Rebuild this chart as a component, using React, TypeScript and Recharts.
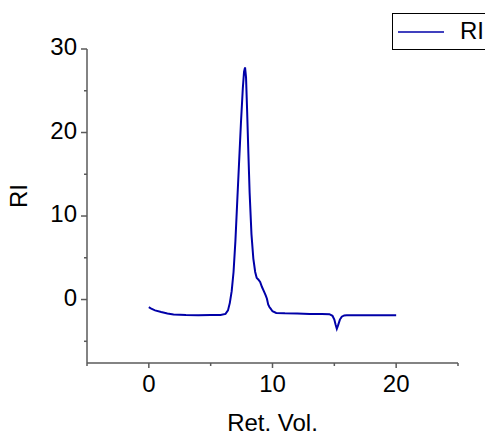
import { LineChart, Line, XAxis, YAxis, Legend } from "recharts";

// retention volume (x) and RI detector signal (y)
const retVol = [
  0, 0.2, 0.5, 1, 1.5, 2, 3, 4, 5, 5.8, 6.2, 6.4, 6.55, 6.7, 6.85, 7.0, 7.15, 7.3, 7.45, 7.6,
  7.7, 7.78, 7.86, 7.95, 8.05, 8.15, 8.3, 8.45, 8.6, 8.72, 8.85, 9.0, 9.15, 9.3, 9.45, 9.55,
  9.65, 9.75, 9.85, 10.0, 10.3, 11, 12, 13, 14, 14.6, 14.85, 15.0, 15.1, 15.2, 15.3, 15.45,
  15.6, 15.8, 16, 17, 18, 19, 20,
];
const riSignal = [
  -0.9, -1.1, -1.3, -1.5, -1.68, -1.78, -1.86, -1.88, -1.86, -1.84, -1.72, -1.3, -0.4, 1.0,
  3.3, 7.0, 11.8, 16.5, 21.2, 25.3, 27.3, 27.8, 26.6, 22.5, 17.5, 12.8, 7.8, 4.9, 3.3, 2.6,
  2.4, 2.1, 1.5, 1.0, 0.5, 0.1, -0.6, -0.9, -1.1, -1.4, -1.6, -1.64, -1.66, -1.72, -1.74,
  -1.76, -1.95, -2.4, -3.0, -3.5, -3.1, -2.4, -2.05, -1.9, -1.88, -1.88, -1.88, -1.88, -1.88,
];
const xTicks = [-5, 0, 5, 10, 15, 20, 25];
const yTicks = [-5, 0, 5, 10, 15, 20, 25, 30];

const data = retVol.map((v, i) => ({ vol: v, ri: riSignal[i] }));

const AXIS = "#5a5a5a";
const LINE = "#0000a8";
const FONT = "'Liberation Sans', Arial, sans-serif";

// eslint-disable-next-line @typescript-eslint/no-explicit-any
function XTick({ x, y, payload }: any) {
  const major = payload.value % 10 === 0;
  return (
    <g>
      <line x1={x} x2={x} y1={y} y2={y + (major ? 5 : 3)} stroke={AXIS} strokeWidth={1.5} />
      {major && (
        <text x={x} y={y + 23} textAnchor="middle" dominantBaseline="middle" fontSize={24} fontFamily={FONT} fill="#000">
          {payload.value}
        </text>
      )}
    </g>
  );
}

// eslint-disable-next-line @typescript-eslint/no-explicit-any
function YTick({ x, y, payload }: any) {
  const major = payload.value % 10 === 0;
  return (
    <g>
      <line x1={x} x2={x - (major ? 6 : 3)} y1={y} y2={y} stroke={AXIS} strokeWidth={1.5} />
      {major && (
        <text x={x - 10} y={y} textAnchor="end" dominantBaseline="middle" fontSize={24} fontFamily={FONT} fill="#000">
          {payload.value}
        </text>
      )}
    </g>
  );
}

// eslint-disable-next-line @typescript-eslint/no-explicit-any
function LegendBox({ payload }: any) {
  const item = payload?.[0];
  return (
    <div style={{ position: "relative", width: 110, height: 35, border: "1px solid #000", background: "#fff", fontFamily: FONT }}>
      <svg width={60} height={35} style={{ position: "absolute", left: 0, top: 0 }}>
        <line x1={5} x2={51} y1={18} y2={18} stroke={item?.color ?? LINE} strokeWidth={1.5} />
      </svg>
      <span style={{ position: "absolute", left: 67, top: 3, fontSize: 24, lineHeight: "28px", color: "#000" }}>
        {item?.value}
      </span>
    </div>
  );
}

export default function App() {
  return (
    <div style={{ position: "absolute", left: 0, top: 0, width: 485, height: 437, overflow: "hidden", background: "#fff" }}>
      <LineChart width={485} height={437} data={data} margin={{ top: 49, right: 27, left: 0, bottom: 0 }}>
        <XAxis
          dataKey="vol"
          type="number"
          domain={[-5, 25]}
          ticks={xTicks}
          height={74}
          stroke={AXIS}
          strokeWidth={1.5}
          tickLine={false}
          tickSize={0}
          tickMargin={0}
          tick={<XTick />}
          interval={0}
          label={({ viewBox }: any) => (
            <text x={viewBox.x + viewBox.width / 2} y={viewBox.y + 62} textAnchor="middle" dominantBaseline="middle" fontSize={24} fontFamily={FONT} fill="#000">
              Ret. Vol.
            </text>
          )}
        />
        <YAxis
          type="number"
          domain={[-7.6, 30]}
          ticks={yTicks}
          width={87}
          stroke={AXIS}
          strokeWidth={1.5}
          tickLine={false}
          tickSize={0}
          tickMargin={0}
          tick={<YTick />}
          interval={0}
          allowDataOverflow
          label={({ viewBox }: any) => {
            const cx = viewBox.x + 21;
            const cy = viewBox.y + viewBox.height / 2 - 10;
            return (
              <text x={cx} y={cy} transform={`rotate(-90 ${cx} ${cy})`} textAnchor="middle" dominantBaseline="middle" fontSize={24} fontFamily={FONT} fill="#000">
                RI
              </text>
            );
          }}
        />
        <Legend
          layout="vertical"
          align="center"
          verticalAlign="middle"
          wrapperStyle={{ left: 392, top: 13 }}
          content={<LegendBox />}
        />
        <Line
          dataKey="ri"
          name="RI"
          type="linear"
          stroke={LINE}
          strokeWidth={2}
          dot={false}
          isAnimationActive={false}
        />
      </LineChart>
    </div>
  );
}
